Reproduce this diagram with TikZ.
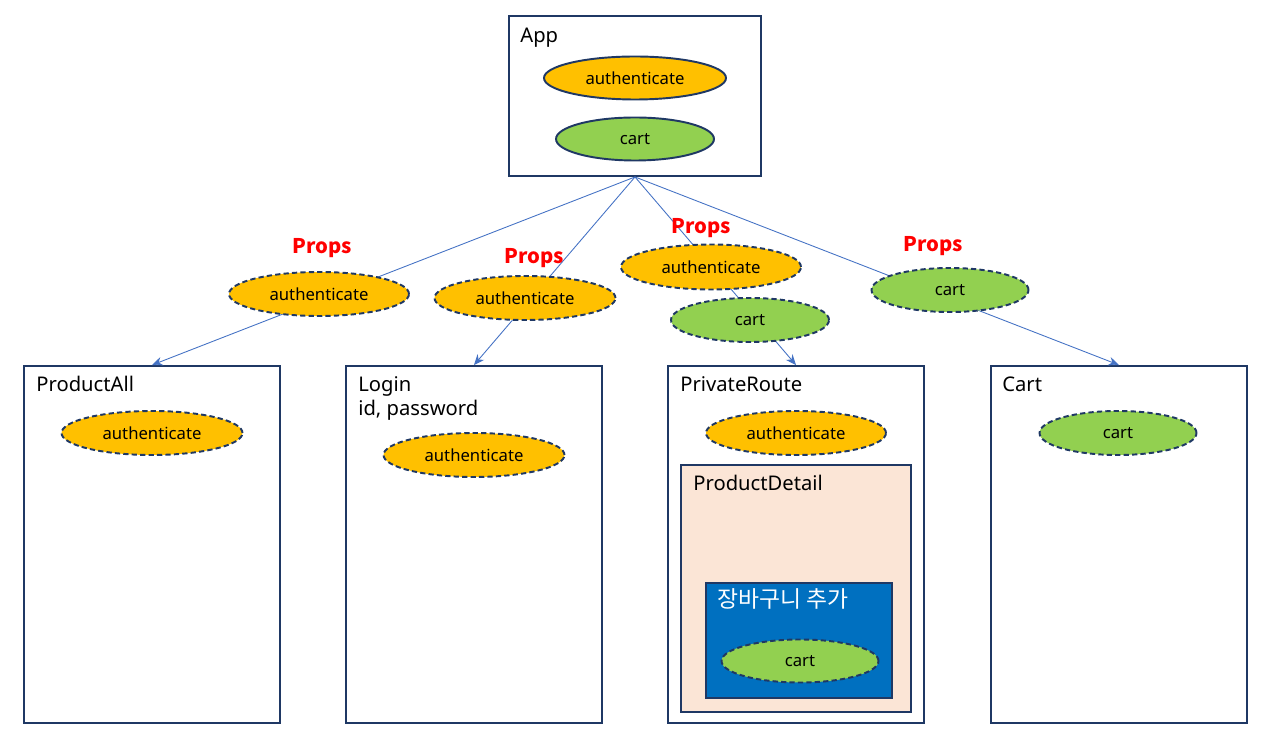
\documentclass[tikz,border=0pt]{standalone}
\usepackage{fontspec}
\setmainfont{Noto Sans}
\newfontfamily\krfont{Noto Sans CJK KR}
\usetikzlibrary{arrows.meta,shapes.geometric}
\definecolor{navy}{HTML}{1F3864}
\definecolor{gold}{HTML}{FFC000}
\definecolor{lgreen}{HTML}{92D050}
\definecolor{peach}{HTML}{FBE5D6}
\definecolor{blu}{HTML}{0070C0}
\definecolor{lineblue}{HTML}{4472C4}
\begin{document}
\begin{tikzpicture}[x=0.02cm,y=-0.02cm,
  box/.style 2 args={draw=navy, line width=1.1pt, rectangle, inner sep=0, minimum width=#1*0.02cm, minimum height=#2*0.02cm},
  ell/.style 2 args={draw=navy, line width=1.1pt, ellipse, inner sep=0, minimum width=#1*0.02cm, minimum height=#2*0.02cm, font=\fontsize{9.5}{11}\selectfont},
  prop/.style={dash pattern=on 3pt off 1.8pt},
  title/.style={anchor=base west, inner sep=0, font=\fontsize{11.5}{13}\selectfont},
  props/.style={text=red, font=\krfont\bfseries\fontsize{11.5}{13}\selectfont, inner sep=0},
  conn/.style={draw=lineblue, line width=0.5pt, -{Stealth[length=6pt,width=5pt]}}
]
\useasboundingbox (0,0) rectangle (1272,742);
% boxes
\node[box={252}{160}] (app) at (635,96) {};
\node[box={256}{357}] (pall) at (152,544.5) {};
\node[box={256}{357}] (login) at (474,544.5) {};
\node[box={256}{357}] (priv) at (796,544.5) {};
\node[box={256}{357}] (cartbox) at (1119,544.5) {};
\node[box={230}{247}, fill=peach] (pd) at (796,588.5) {};
\node[box={186}{115}, fill=blu] (add) at (799,640.5) {};
% titles
\node[title] (tapp) at (520,43) {App};
\node[title] (tpall) at (36,392) {ProductAll};
\node[title] (tlogin) at (358,392) {Login};
\node[title] (tlogin2) at (358,416) {id, password};
\node[title] (tpriv) at (680,392) {PrivateRoute};
\node[title] (tcart) at (1002,392) {Cart};
\node[title] (tpd) at (693,491) {ProductDetail};
\node[title, text=white, font=\krfont\fontsize{13}{15}\selectfont] (tadd) at (717,608) {장바구니 추가};
% connectors
\draw[conn] (app.south) -- (pall.north);
\draw[conn] (app.south) -- (login.north);
\draw[conn] (app.south) -- (priv.north);
\draw[conn] (app.south) -- (cartbox.north);
% app states
\node[ell={182}{43}, fill=gold] (appauth) at (635,78) {authenticate};
\node[ell={158}{43}, fill=lgreen] (appcart) at (635,139) {cart};
% props
\node[ell={180}{44}, fill=gold, prop] (p1) at (319,294) {authenticate};
\node[ell={181}{44}, fill=gold, prop] (p2) at (525,298) {authenticate};
\node[ell={180}{45}, fill=gold, prop] (p3) at (711,267) {authenticate};
\node[ell={158}{44}, fill=lgreen, prop] (p4) at (750,320) {cart};
\node[ell={157}{44}, fill=lgreen, prop] (p5) at (950,290) {cart};
\node[props] (l1) at (322,248) {Props};
\node[props] (l2) at (534,258) {Props};
\node[props] (l3) at (701,228) {Props};
\node[props] (l4) at (933,246) {Props};
% children states
\node[ell={181}{44}, fill=gold, prop] (c1) at (152,433) {authenticate};
\node[ell={181}{44}, fill=gold, prop] (c2) at (474,455) {authenticate};
\node[ell={180}{44}, fill=gold, prop] (c3) at (796,433) {authenticate};
\node[ell={157}{44}, fill=lgreen, prop] (c4) at (1118,433) {cart};
\node[ell={157}{43}, fill=lgreen, prop] (c5) at (800,661) {cart};
\end{tikzpicture}
\end{document}
